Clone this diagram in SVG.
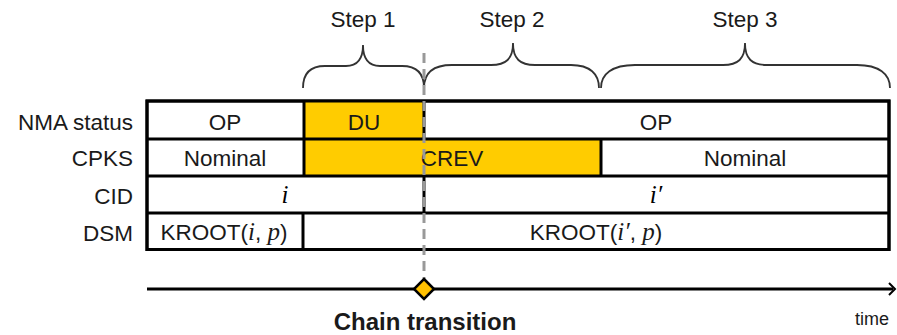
<svg xmlns="http://www.w3.org/2000/svg" width="897" height="335" viewBox="0 0 897 335">
<defs>
<style>
.lbl{font-family:"Liberation Sans",Arial,sans-serif;font-size:22.5px;fill:#1a1a1a}
.rl{text-anchor:end}
.c{text-anchor:middle}
.m{font-family:"Liberation Serif","Times New Roman",serif;font-style:italic;font-size:25px}
.cell{stroke:#000;stroke-width:3;fill:#fff}
.y{fill:#FFCC00}
.div{stroke:#000;stroke-width:3}
.brace{fill:none;stroke:#333;stroke-width:1.8}
</style>
</defs>
<rect width="897" height="335" fill="#fff"/>

<g id="step-labels">
<text class="lbl c" x="363" y="27">Step 1</text>
<text class="lbl c" x="512" y="27">Step 2</text>
<text class="lbl c" x="745" y="27">Step 3</text>
</g>

<g id="braces">
<path id="brace1" class="brace" d="M303,88 C303,74 310,66 325,66 L346,66 C357,66 363,60 363,45 C363,60 369,66 380,66 L402,66 C417,66 424,74 424,88"/>
<path id="brace2" class="brace" d="M424,88 C424,74 432,65 452,65 L491,65 C506,65 513,59 513,43 C513,59 520,65 535,65 L571,65 C590,65 599,74 599,88"/>
<path id="brace3" class="brace" d="M601,88 C601,74 612,65 635,65 L723,65 C738,65 745,59 745,43 C745,59 752,65 767,65 L857,65 C879,65 890,74 890,88"/>
</g>

<g id="row-labels">
<text class="lbl rl" x="133" y="130">NMA status</text>
<text class="lbl rl" x="133" y="166">CPKS</text>
<text class="lbl rl" x="133" y="204">CID</text>
<text class="lbl rl" x="133" y="241">DSM</text>
</g>

<g id="table">
<rect class="cell" x="147" y="101" width="742" height="148.5"/>
<rect class="y" x="304" y="101" width="120" height="38"/>
<rect class="y" x="304" y="139" width="297" height="37"/>
<line class="div" x1="147" y1="139" x2="889" y2="139"/>
<line class="div" x1="147" y1="176" x2="889" y2="176"/>
<line class="div" x1="147" y1="213" x2="889" y2="213"/>
<rect x="147" y="101" width="742" height="148.5" fill="none" stroke="#000" stroke-width="3"/>
</g>

<g id="nma-row">
<line class="div" x1="304" y1="101" x2="304" y2="139"/>
<line class="div" x1="424" y1="101" x2="424" y2="139"/>
<text class="lbl c" x="225" y="130">OP</text>
<text class="lbl c" x="364" y="130">DU</text>
<text class="lbl c" x="656" y="130">OP</text>
</g>

<g id="cpks-row">
<line class="div" x1="304" y1="139" x2="304" y2="176"/>
<line class="div" x1="601" y1="139" x2="601" y2="176"/>
<text class="lbl c" x="225" y="166">Nominal</text>
<text class="lbl c" x="452" y="166">CREV</text>
<text class="lbl c" x="745" y="166">Nominal</text>
</g>

<g id="cid-row">
<line class="div" x1="424" y1="176" x2="424" y2="213"/>
<text class="m c" x="285" y="203">i</text>
<text class="m c" x="656" y="203">i′</text>
</g>

<g id="dsm-row">
<line class="div" x1="303" y1="213" x2="303" y2="249.5"/>
<text class="lbl c" x="224" y="240">KROOT(<tspan class="m">i</tspan>, <tspan class="m">p</tspan>)</text>
<text class="lbl c" x="596" y="240">KROOT(<tspan class="m">i′</tspan>, <tspan class="m">p</tspan>)</text>
</g>

<g id="connectors">
<line x1="147" y1="289" x2="893" y2="289" stroke="#000" stroke-width="3"/>
<polyline points="889,283 895,289 889,295" fill="none" stroke="#000" stroke-width="2"/>
<line x1="424" y1="53" x2="424" y2="281" stroke="#999" stroke-width="3" stroke-dasharray="10 6"/>
</g>

<g id="chain-transition">
<path d="M424,279 L434,289 L424,299 L414,289 Z" fill="#FFC000" stroke="#000" stroke-width="2.5"/>
<text x="425" y="330" text-anchor="middle" font-family="'Liberation Sans',Arial,sans-serif" font-weight="bold" font-size="24" fill="#1a1a1a">Chain transition</text>
</g>

<g id="time-label">
<text x="855" y="325" font-family="'Liberation Sans',Arial,sans-serif" font-size="18" fill="#1a1a1a">time</text>
</g>
</svg>
